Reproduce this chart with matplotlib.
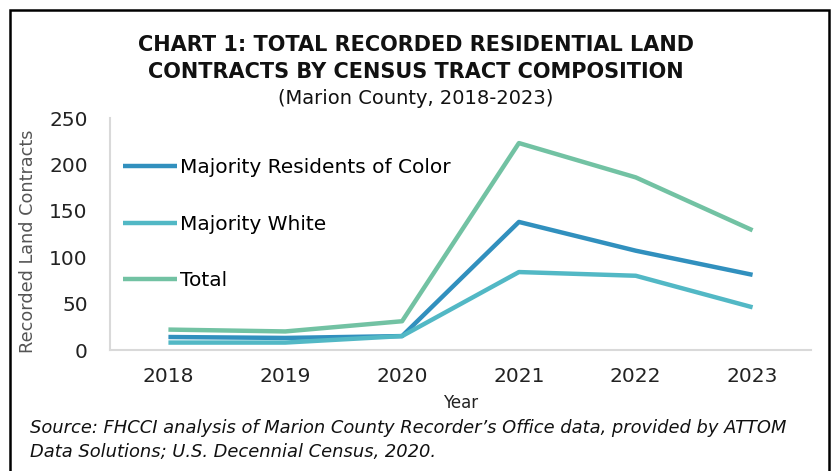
import matplotlib
matplotlib.use("Agg")
import matplotlib.pyplot as plt
from matplotlib.patches import Rectangle

# data
years = ["2018", "2019", "2020", "2021", "2022", "2023"]
color_majority = [14, 13, 15, 138, 107, 81]
white_majority = [8, 8, 15, 84, 80, 46]
total = [22, 20, 31, 223, 186, 129]

plt.rcParams['font.family'] = ['DejaVu Sans']

W, H = 832, 471
fig = plt.figure(figsize=(W / 100, H / 100), dpi=100)

# axes box in pixels: x 110..811, y 118..350
ax = fig.add_axes([110 / W, 1 - 350 / H, (811 - 110) / W, (350 - 118) / H])

x = range(len(years))
ax.plot(x, color_majority, color="#3190be", lw=3.2, label="Majority Residents of Color", solid_capstyle="butt")
ax.plot(x, white_majority, color="#52b8c5", lw=3.2, label="Majority White", solid_capstyle="butt")
ax.plot(x, total, color="#72c2a3", lw=3.2, label="Total", solid_capstyle="butt")

ax.set_xlim(-0.5, len(years) - 0.5)
ax.set_ylim(0, 250)
ax.set_yticks(range(0, 251, 50))
ax.set_xticks(list(x))
ax.set_xticklabels(years)
ax.tick_params(axis="both", length=0, labelsize=14.5, colors="#222222")
ax.tick_params(axis="y", pad=16)
ax.tick_params(axis="x", pad=12)
for s in ["top", "right"]:
    ax.spines[s].set_visible(False)
for s in ["left", "bottom"]:
    ax.spines[s].set_color("#d9d9d9")
    ax.spines[s].set_linewidth(1.5)

ax.set_xlabel("Year", fontsize=12, color="#222222", labelpad=6)
ax.set_ylabel("Recorded Land Contracts", fontsize=12.7, color="#555555")
ax.yaxis.set_label_coords(-0.104, 0.47)

leg = ax.legend(loc="upper left", bbox_to_anchor=(-0.008, 0.905), frameon=False,
                fontsize=14.5, handlelength=2.7, handletextpad=0.15, labelspacing=1.87)

fig.text(0.5, 1 - 45 / H, "CHART 1: TOTAL RECORDED RESIDENTIAL LAND", ha="center", va="center",
         fontsize=15, fontweight="bold", color="#111111")
fig.text(0.5, 1 - 72 / H, "CONTRACTS BY CENSUS TRACT COMPOSITION", ha="center", va="center",
         fontsize=15, fontweight="bold", color="#111111")
fig.text(0.5, 1 - 98 / H, "(Marion County, 2018-2023)", ha="center", va="center",
         fontsize=14, color="#111111")

fig.text(30 / W, 1 - 428 / H, "Source: FHCCI analysis of Marion County Recorder\u2019s Office data, provided by ATTOM",
         ha="left", va="center", fontsize=12.9, style="italic", color="#111111")
fig.text(30 / W, 1 - 452 / H, "Data Solutions; U.S. Decennial Census, 2020.",
         ha="left", va="center", fontsize=12.9, style="italic", color="#111111")

# outer frame
fig.patches.append(Rectangle((10 / W, -0.05), (829 - 10) / W, 1.05 - 10 / H,
                             transform=fig.transFigure, fill=False, ec="black", lw=1.8))

fig.savefig("out.png", dpi=100)
